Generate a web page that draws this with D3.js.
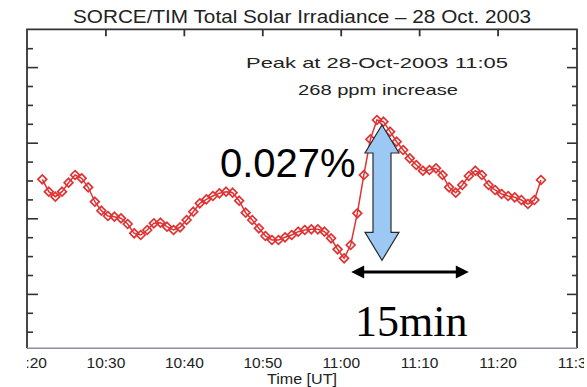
<!DOCTYPE html>
<html>
<head>
<meta charset="utf-8">
<script src="https://cdn.jsdelivr.net/npm/d3@7"></script>
<style>
  html, body { margin: 0; padding: 0; background: #fff; }
  svg { display: block; }
  text { font-family: "Liberation Sans", Arial, sans-serif; }
</style>
</head>
<body>
<svg id="chart" width="587" height="387"></svg>
<script>
// SORCE/TIM total solar irradiance, 28 Oct. 2003 (UT), ~50 s cadence
const times = [
  "10:21:57","10:22:47","10:23:37","10:24:28","10:25:18","10:26:08","10:26:58","10:27:48",
  "10:28:39","10:29:29","10:30:19","10:31:09","10:31:59","10:32:50","10:33:40","10:34:30",
  "10:35:20","10:36:10","10:37:01","10:37:51","10:38:41","10:39:31","10:40:21","10:41:12",
  "10:42:02","10:42:52","10:43:42","10:44:32","10:45:23","10:46:13","10:47:03","10:47:53",
  "10:48:43","10:49:34","10:50:24","10:51:14","10:52:04","10:52:54","10:53:45","10:54:35",
  "10:55:25","10:56:15","10:57:05","10:57:56","10:58:46","10:59:36","11:00:26","11:01:16",
  "11:02:07","11:02:57","11:03:47","11:04:37","11:05:27","11:06:18","11:07:08","11:07:58",
  "11:08:48","11:09:38","11:10:29","11:11:19","11:12:09","11:12:59","11:13:49","11:14:40",
  "11:15:30","11:16:20","11:17:10","11:18:00","11:18:51","11:19:41","11:20:31","11:21:21",
  "11:22:11","11:23:02","11:23:52","11:24:42","11:25:32"
];
// irradiance in W/m^2
const tsi = [
  1361.1032,1361.0704,1361.0571,1361.0704,1361.0942,1361.1146,1361.1058,1361.0820,
  1361.0439,1361.0201,1361.0061,1361.0042,1361.0000,1360.9849,1360.9603,1360.9558,
  1360.9690,1360.9868,1360.9884,1360.9778,1360.9690,1360.9762,1360.9955,1361.0175,
  1361.0397,1361.0503,1361.0590,1361.0661,1361.0704,1361.0677,1361.0466,1361.0148,
  1360.9955,1360.9735,1360.9532,1360.9426,1360.9426,1360.9497,1360.9558,1360.9646,
  1360.9690,1360.9709,1360.9709,1360.9646,1360.9471,1360.9180,1360.8942,1360.9294,
  1361.0132,1361.1146,1361.2090,1361.2601,1361.2556,1361.2291,1361.2026,1361.1807,
  1361.1587,1361.1410,1361.1259,1361.1278,1361.1323,1361.1146,1361.0820,1361.0677,
  1361.0881,1361.1119,1361.1259,1361.1146,1361.0881,1361.0749,1361.0643,1361.0590,
  1361.0556,1361.0484,1361.0378,1361.0484,1361.1013
];
const xTickLabels = ["10:20","10:30","10:40","10:50","11:00","11:10","11:20","11:30"];
const yMajorTicks = [1360.8, 1361.0, 1361.2, 1361.4];
const yMinorTicks = [1360.70,1360.75,1360.85,1360.90,1360.95,1361.05,1361.10,1361.15,
                     1361.25,1361.30,1361.35,1361.45];
const titleText = "SORCE/TIM Total Solar Irradiance \u2013 28 Oct. 2003";
const peakLines = ["Peak at 28-Oct-2003 11:05", "268 ppm increase"];
const pctLabel = "0.027%";
const durLabel = "15min";
const durSpan = ["11:01:20", "11:16:20"];

const parse = d3.timeParse("%H:%M");
const parseS = d3.timeParse("%H:%M:%S");
const data = times.map((t, i) => ({ t: parseS(t), v: tsi[i] }));

const L = 27, R = 577, T = 29.3, B = 348.3;
const svg = d3.select("#chart");

const x = d3.scaleTime()
  .domain([parse("10:20"), parse("11:30")])
  .range([L, 576]);
const y = d3.scaleLinear()
  .domain([1361.5 - (B - T) / 378, 1361.5])
  .range([B, T]);

// title
svg.append("text")
  .attr("x", 302).attr("y", 22.5)
  .attr("text-anchor", "middle")
  .attr("font-size", 17.5)
  .attr("fill", "#222")
  .attr("textLength", 458).attr("lengthAdjust", "spacingAndGlyphs")
  .text(titleText);

// bottom time labels, clipped to the plot's horizontal extent
svg.append("defs").append("clipPath").attr("id", "lblclip")
  .append("rect").attr("x", L).attr("y", 340).attr("width", 584 - L).attr("height", 47);

const xAxis = d3.axisBottom(x)
  .tickValues(xTickLabels.map(parse))
  .tickSize(0)
  .tickPadding(0)
  .tickFormat(d3.timeFormat("%H:%M"));
const gx = svg.append("g")
  .attr("clip-path", "url(#lblclip)")
  .append("g")
  .attr("transform", `translate(0,${B + 8})`)
  .call(xAxis);
gx.select(".domain").remove();
gx.selectAll("text")
  .attr("font-size", 15.5)
  .attr("fill", "#222")
  .attr("dy", "0.75em")
  .style("font-family", "'Liberation Sans', Arial, sans-serif");

svg.append("text")
  .attr("x", 302).attr("y", 383.5)
  .attr("text-anchor", "middle")
  .attr("font-size", 14)
  .attr("fill", "#222")
  .attr("textLength", 70).attr("lengthAdjust", "spacingAndGlyphs")
  .text("Time [UT]");

// top ticks (inward)
const topAxis = d3.axisTop(x)
  .tickValues(xTickLabels.slice(1, -1).map(parse))
  .tickSize(-7)
  .tickFormat("");
const gt = svg.append("g").attr("transform", `translate(0,${T})`).call(topAxis);
gt.select(".domain").remove();
gt.selectAll("line").attr("stroke", "#333").attr("stroke-width", 1.8);

// left and right ticks (inward), major and minor
function yTicks(side) {
  const xpos = side === "left" ? L : R;
  const mk = (vals, len) => {
    const ax = (side === "left" ? d3.axisLeft(y) : d3.axisRight(y))
      .tickValues(vals).tickSize(-len).tickFormat("");
    const g = svg.append("g").attr("transform", `translate(${xpos},0)`).call(ax);
    g.select(".domain").remove();
    g.selectAll("line").attr("stroke", "#333").attr("stroke-width", 1.6);
  };
  mk(yMajorTicks, side === "left" ? 11 : 10);
  mk(yMinorTicks, side === "left" ? 6 : 5);
}
yTicks("left");
yTicks("right");

// frame
svg.append("path")
  .attr("d", `M${L},${B}V${T}H${R}V${B}`)
  .attr("fill", "none").attr("stroke", "#333").attr("stroke-width", 1.8);
svg.append("line")
  .attr("x1", L).attr("x2", R).attr("y1", B).attr("y2", B)
  .attr("stroke", "#8c8ca6").attr("stroke-width", 1.5);

// irradiance series
const red = "#e03434";
svg.append("path")
  .datum(data)
  .attr("fill", "none")
  .attr("stroke", red)
  .attr("stroke-width", 1.5)
  .attr("d", d3.line().x(d => x(d.t)).y(d => y(d.v)));
svg.append("g").selectAll("path")
  .data(data).join("path")
  .attr("transform", d => `translate(${x(d.t)},${y(d.v)})`)
  .attr("d", "M0,-4.4L4.4,0L0,4.4L-4.4,0Z")
  .attr("fill", "none")
  .attr("stroke", red)
  .attr("stroke-width", 1.7);

// peak annotation
svg.append("text")
  .attr("x", 377).attr("y", 68)
  .attr("text-anchor", "middle").attr("font-size", 15)
  .attr("fill", "#222")
  .attr("textLength", 262).attr("lengthAdjust", "spacingAndGlyphs")
  .text(peakLines[0]);
svg.append("text")
  .attr("x", 378).attr("y", 95)
  .attr("text-anchor", "middle").attr("font-size", 15)
  .attr("fill", "#222")
  .attr("textLength", 160).attr("lengthAdjust", "spacingAndGlyphs")
  .text(peakLines[1]);

// vertical double arrow spanning the rise, from the minimum to the peak
const minD = data.reduce((a, b) => (b.v < a.v ? b : a));
const maxD = data.reduce((a, b) => (b.v > a.v ? b : a));
const ax0 = 382, yTop = y(maxD.v) + 5, yBot = y(minD.v) + 2;
const headH = 28, headW = 17, shaftW = 9;
svg.append("path")
  .attr("d", `M${ax0},${yTop}L${ax0 + headW},${yTop + headH}L${ax0 + shaftW},${yTop + headH}` +
             `L${ax0 + shaftW},${yBot - headH}L${ax0 + headW},${yBot - headH}L${ax0},${yBot}` +
             `L${ax0 - headW},${yBot - headH}L${ax0 - shaftW},${yBot - headH}` +
             `L${ax0 - shaftW},${yTop + headH}L${ax0 - headW},${yTop + headH}Z`)
  .attr("fill", "#9cc8f4")
  .attr("stroke", "#2a2a2a")
  .attr("stroke-width", 1.2)
  .attr("stroke-linejoin", "miter");

svg.append("text")
  .attr("x", 220).attr("y", 177)
  .attr("font-size", 40)
  .attr("fill", "#000")
  .style("font-family", "'Liberation Sans', Arial, sans-serif")
  .text(pctLabel);

// horizontal double arrow: 15 minutes
const hy = 272;
const hx0 = x(parseS(durSpan[0])), hx1 = x(parseS(durSpan[1]));
svg.append("line")
  .attr("x1", hx0 + 8).attr("x2", hx1 - 8).attr("y1", hy).attr("y2", hy)
  .attr("stroke", "#000").attr("stroke-width", 3);
svg.append("path")
  .attr("d", `M${hx0},${hy}L${hx0 + 13},${hy - 6.5}L${hx0 + 13},${hy + 6.5}Z` +
             `M${hx1},${hy}L${hx1 - 13},${hy - 6.5}L${hx1 - 13},${hy + 6.5}Z`)
  .attr("fill", "#000");

svg.append("text")
  .attr("x", 355).attr("y", 336)
  .attr("font-size", 44)
  .attr("fill", "#000")
  .style("font-family", "'Liberation Serif', 'Times New Roman', serif")
  .text(durLabel);
</script>
</body>
</html>
